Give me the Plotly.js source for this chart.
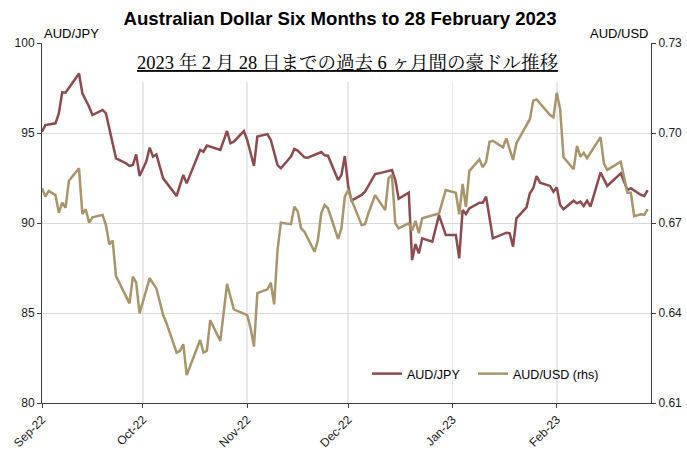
<!DOCTYPE html>
<html>
<head>
<meta charset="utf-8">
<script src="https://cdn.plot.ly/plotly-3.0.1.min.js"></script>
<style>html,body{margin:0;padding:0;background:#fff}</style>
</head>
<body>
<div id="chart" style="width:687px;height:453px"></div>
<script>
const jpyDates = ['2022-09-01','2022-09-02','2022-09-05','2022-09-06','2022-09-07','2022-09-08','2022-09-12','2022-09-13','2022-09-15','2022-09-16','2022-09-19','2022-09-20','2022-09-23','2022-09-26','2022-09-27','2022-09-28','2022-09-29','2022-09-30','2022-10-02','2022-10-03','2022-10-04','2022-10-05','2022-10-07','2022-10-11','2022-10-13','2022-10-14','2022-10-18','2022-10-19','2022-10-20','2022-10-24','2022-10-26','2022-10-27','2022-10-28','2022-10-31','2022-11-01','2022-11-03','2022-11-04','2022-11-07','2022-11-08','2022-11-10','2022-11-11','2022-11-14','2022-11-15','2022-11-16','2022-11-18','2022-11-19','2022-11-23','2022-11-24','2022-11-25','2022-11-28','2022-11-29','2022-11-30','2022-12-01','2022-12-02','2022-12-05','2022-12-06','2022-12-07','2022-12-09','2022-12-11','2022-12-13','2022-12-14','2022-12-15','2022-12-16','2022-12-19','2022-12-20','2022-12-21','2022-12-22','2022-12-23','2022-12-26','2022-12-28','2022-12-30','2023-01-02','2023-01-03','2023-01-04','2023-01-05','2023-01-06','2023-01-09','2023-01-10','2023-01-11','2023-01-13','2023-01-17','2023-01-18','2023-01-19','2023-01-20','2023-01-23','2023-01-24','2023-01-25','2023-01-26','2023-01-27','2023-01-30','2023-01-31','2023-02-01','2023-02-02','2023-02-03','2023-02-06','2023-02-07','2023-02-08','2023-02-09','2023-02-10','2023-02-11','2023-02-14','2023-02-16','2023-02-20','2023-02-22','2023-02-23','2023-02-26','2023-02-27','2023-02-28'];
const jpyValues = [95.07,95.44,95.54,96.09,97.26,97.24,98.31,97.2,96.46,96.0,96.28,96.09,93.59,93.31,93.17,93.22,93.81,92.61,93.41,94.19,93.69,93.81,92.48,91.5,92.67,92.2,94.06,93.96,94.3,94.06,95.11,94.43,94.52,95.11,94.61,93.17,94.8,94.94,94.61,93.22,93.04,93.69,94.11,94.02,93.65,93.63,93.94,93.76,93.74,92.39,92.67,93.72,92.04,91.24,91.56,91.74,92.06,92.72,92.8,92.89,92.94,92.39,91.35,91.69,87.94,88.83,88.31,89.15,88.96,90.44,89.33,89.33,88.04,90.72,90.5,90.81,91.13,91.13,91.46,89.15,89.46,89.43,88.69,90.26,90.87,91.65,91.93,92.61,92.24,92.06,91.74,91.98,91.0,90.76,91.24,91.09,91.19,90.94,91.24,90.91,92.8,92.06,92.76,91.83,91.93,91.56,91.5,91.83];

const usdDates = ['2022-09-01','2022-09-02','2022-09-03','2022-09-05','2022-09-06','2022-09-07','2022-09-08','2022-09-09','2022-09-12','2022-09-13','2022-09-14','2022-09-15','2022-09-16','2022-09-19','2022-09-20','2022-09-21','2022-09-22','2022-09-23','2022-09-27','2022-09-28','2022-09-29','2022-09-30','2022-10-03','2022-10-05','2022-10-07','2022-10-08','2022-10-10','2022-10-11','2022-10-12','2022-10-13','2022-10-14','2022-10-18','2022-10-19','2022-10-20','2022-10-21','2022-10-24','2022-10-26','2022-10-28','2022-11-01','2022-11-02','2022-11-03','2022-11-04','2022-11-07','2022-11-08','2022-11-09','2022-11-10','2022-11-11','2022-11-14','2022-11-15','2022-11-16','2022-11-17','2022-11-18','2022-11-21','2022-11-22','2022-11-23','2022-11-24','2022-11-25','2022-11-28','2022-11-29','2022-11-30','2022-12-01','2022-12-02','2022-12-05','2022-12-06','2022-12-07','2022-12-09','2022-12-12','2022-12-13','2022-12-14','2022-12-15','2022-12-16','2022-12-19','2022-12-20','2022-12-21','2022-12-22','2022-12-23','2022-12-28','2022-12-30','2023-01-02','2023-01-03','2023-01-04','2023-01-05','2023-01-06','2023-01-09','2023-01-10','2023-01-11','2023-01-12','2023-01-13','2023-01-16','2023-01-17','2023-01-19','2023-01-20','2023-01-24','2023-01-25','2023-01-26','2023-01-30','2023-01-31','2023-02-01','2023-02-02','2023-02-03','2023-02-06','2023-02-07','2023-02-08','2023-02-09','2023-02-10','2023-02-14','2023-02-15','2023-02-16','2023-02-20','2023-02-22','2023-02-23','2023-02-24','2023-02-26','2023-02-27','2023-02-28'];
const usdValues = [0.6816,0.6788,0.6807,0.6793,0.6734,0.6768,0.6751,0.6841,0.6882,0.673,0.6746,0.6701,0.6719,0.6727,0.6693,0.6629,0.6641,0.6523,0.6432,0.6521,0.6501,0.6399,0.6516,0.6482,0.6393,0.6366,0.6301,0.6268,0.6274,0.6296,0.6193,0.631,0.6268,0.6274,0.6376,0.6307,0.6497,0.6412,0.6393,0.6349,0.6288,0.6466,0.6479,0.6501,0.6429,0.661,0.6701,0.6696,0.6754,0.6738,0.6682,0.6671,0.6604,0.6643,0.6732,0.676,0.6749,0.6647,0.6682,0.6788,0.681,0.6777,0.6693,0.6696,0.6732,0.6793,0.6743,0.6849,0.686,0.6699,0.6682,0.6699,0.6674,0.6707,0.6666,0.6716,0.6732,0.681,0.6801,0.6729,0.683,0.6754,0.6873,0.6912,0.6886,0.6904,0.6971,0.6974,0.6952,0.6982,0.691,0.6966,0.7046,0.7108,0.7112,0.706,0.7052,0.7134,0.7079,0.6919,0.6879,0.6957,0.6921,0.6934,0.6916,0.6986,0.6899,0.6877,0.6904,0.6801,0.6801,0.6723,0.6729,0.6727,0.6746];

const monthTicks = ['2022-09-01','2022-10-01','2022-11-01','2022-12-01','2023-01-01','2023-02-01'];
const monthLabels = ['Sep-22','Oct-22','Nov-22','Dec-22','Jan-23','Feb-23'];
const seriesNames = ['AUD/JPY', 'AUD/USD (rhs)'];
const titleText = 'Australian Dollar Six Months to 28 February 2023';
const subtitleText = '2023 年 2 月 28 日までの過去 6 ヶ月間の豪ドル推移';
const leftAxisLabel = 'AUD/JPY';
const rightAxisLabel = 'AUD/USD';

const FONT = 'Liberation Sans, Arial, sans-serif';
const axisCommon = {
  ticks: 'outside', ticklen: 4, tickcolor: '#404040', tickwidth: 1,
  showline: true, linecolor: '#404040', linewidth: 1,
  tickfont: {family: FONT, size: 12, color: '#1a1a1a'},
  zeroline: false, fixedrange: true
};

const traces = [
  {x: jpyDates, y: jpyValues, name: seriesNames[0], type: 'scatter', mode: 'lines',
   line: {color: '#8E4B4F', width: 2.5}, yaxis: 'y', legend: 'legend'},
  {x: usdDates, y: usdValues, name: seriesNames[1], type: 'scatter', mode: 'lines',
   line: {color: '#A8956A', width: 2.5}, yaxis: 'y2', legend: 'legend2'}
];

const legendCommon = {orientation: 'h', xanchor: 'left', y: (403-374)/360, yanchor: 'middle',
  bgcolor: 'rgba(0,0,0,0)', font: {family: FONT, size: 12.5, color: '#000'}};

const layout = {
  width: 687, height: 453,
  margin: {l: 42, r: 36, t: 43, b: 50},
  paper_bgcolor: '#fff', plot_bgcolor: '#fff',
  showlegend: true,
  title: {text: '<b>' + titleText + '</b>', x: 0.495, xref: 'container', xanchor: 'center',
          y: 1 - 18/453, yref: 'container', yanchor: 'middle',
          font: {family: FONT, size: 18.6, color: '#000'}},
  xaxis: Object.assign({}, axisCommon, {
    type: 'date', range: ['2022-09-01', '2023-03-01'],
    tickmode: 'array', tickvals: monthTicks, ticktext: monthLabels, tickangle: -45,
    showgrid: true, gridcolor: '#e9e9e9', gridwidth: 1.5
  }),
  yaxis: Object.assign({}, axisCommon, {
    range: [80, 100], dtick: 5, tick0: 80,
    showgrid: true, gridcolor: '#dadada', gridwidth: 1
  }),
  yaxis2: Object.assign({}, axisCommon, {
    range: [0.61, 0.73], dtick: 0.03, tick0: 0.61, tickformat: '.2f',
    overlaying: 'y', side: 'right', showgrid: false
  }),
  legend: Object.assign({}, legendCommon, {x: (367-42)/609}),
  legend2: Object.assign({}, legendCommon, {x: (473-42)/609}),
  shapes: [
    {type: 'rect', xref: 'paper', yref: 'paper', x0: 73/609, x1: 558/609, y0: (403-82)/360, y1: 1.01,
     fillcolor: '#fff', line: {width: 0}, layer: 'above'}
  ],
  annotations: [
    {text: subtitleText, xref: 'paper', yref: 'paper', x: (347-42)/609, y: (403-62)/360,
     xanchor: 'center', yanchor: 'middle', showarrow: false,
     font: {family: 'Liberation Serif, Noto Serif CJK JP, Noto Sans CJK JP, serif', size: 18.5, color: '#000', lineposition: 'under'}},
    {text: leftAxisLabel, xref: 'paper', yref: 'paper', x: (71-42)/609, y: (403-33)/360,
     xanchor: 'center', yanchor: 'middle', showarrow: false,
     font: {family: FONT, size: 13, color: '#000'}},
    {text: rightAxisLabel, xref: 'paper', yref: 'paper', x: (619-42)/609, y: (403-33)/360,
     xanchor: 'center', yanchor: 'middle', showarrow: false,
     font: {family: FONT, size: 13, color: '#000'}}
  ]
};

Plotly.newPlot('chart', traces, layout, {displayModeBar: false, staticPlot: true});
</script>
</body>
</html>
